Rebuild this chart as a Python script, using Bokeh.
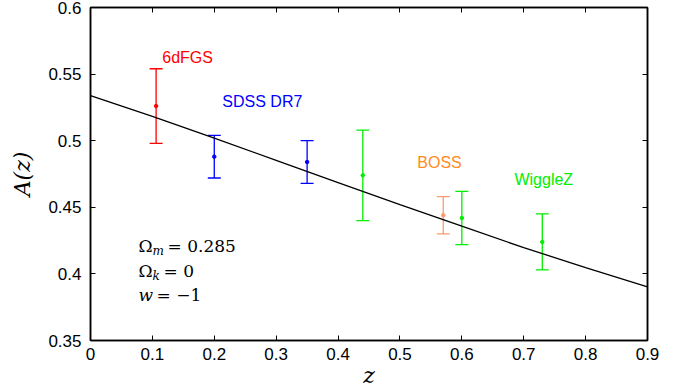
from bokeh.plotting import figure
from bokeh.models import (ColumnDataSource, Whisker, TeeHead, Label, LinearAxis,
                          Range1d, FixedTicker, CustomJSTickFormatter)
from bokeh.embed import file_html
from bokeh.resources import INLINE

# theory curve A(z)
curve_z = [0.0, 0.1, 0.2, 0.3, 0.4, 0.5, 0.6, 0.7, 0.8, 0.9]
curve_A = [0.5339, 0.5182, 0.5019, 0.4853, 0.4686, 0.4520, 0.4358, 0.4197, 0.4048, 0.3902]

# survey measurements
surveys = ["6dFGS", "SDSS DR7", "SDSS DR7", "WiggleZ", "BOSS", "WiggleZ", "WiggleZ"]
z_vals = [0.106, 0.20, 0.35, 0.44, 0.57, 0.60, 0.73]
A_vals = [0.526, 0.488, 0.484, 0.474, 0.444, 0.442, 0.424]
A_err = [0.028, 0.016, 0.016, 0.034, 0.014, 0.020, 0.021]

colors = {"6dFGS": "#ff0000", "SDSS DR7": "#0000ff", "WiggleZ": "#00ee00", "BOSS": "#ff9a6e"}
label_colors = {"6dFGS": "#ff0000", "SDSS DR7": "#0000ff", "WiggleZ": "#00ee00", "BOSS": "#ff8a20"}
label_names = ["6dFGS", "SDSS DR7", "BOSS", "WiggleZ"]
label_x = [0.116, 0.213, 0.528, 0.685]
label_y = [0.5625, 0.5297, 0.4834, 0.471]

x_ticks = [0, 0.1, 0.2, 0.3, 0.4, 0.5, 0.6, 0.7, 0.8, 0.9]
y_ticks = [0.35, 0.4, 0.45, 0.5, 0.55, 0.6]

p = figure(width=681, height=391, output_backend="svg", toolbar_location=None,
           x_range=Range1d(0, 0.9), y_range=Range1d(0.35, 0.6),
           min_border_left=90, min_border_right=34, min_border_top=7, min_border_bottom=51,
           background_fill_color="white", border_fill_color="white")
p.grid.visible = False
p.outline_line_color = "black"
p.outline_line_width = 1.5

tick_font = "Liberation Sans"
for ax in (p.xaxis[0], p.yaxis[0]):
    ax.major_tick_in = 5
    ax.major_tick_out = 0
    ax.minor_tick_in = 0
    ax.minor_tick_out = 0
    ax.axis_line_width = 1.5
    ax.major_tick_line_width = 1
    ax.major_label_text_font = tick_font
    ax.major_label_text_font_size = "17px"
    ax.major_label_text_color = "black"
    ax.axis_label_text_font = "DejaVu Serif"
    ax.axis_label_text_font_style = "italic"
    ax.axis_label_text_font_size = "22px"
    ax.axis_label_text_color = "black"

p.xaxis.ticker = FixedTicker(ticks=x_ticks)
p.yaxis.ticker = FixedTicker(ticks=y_ticks)
p.xaxis.major_label_overrides = {0: "0"}
p.xaxis.axis_label = "z"
p.yaxis.axis_label = "A(z)"
p.xaxis.major_label_standoff = 7
p.yaxis.major_label_standoff = 9
p.xaxis.axis_label_standoff = 0
p.yaxis.axis_label_standoff = 10

# ticks on top and right without labels
blank = CustomJSTickFormatter(code="return '';")
top = LinearAxis(ticker=FixedTicker(ticks=x_ticks), formatter=blank, major_tick_in=5,
                 major_tick_out=0, minor_tick_in=0, minor_tick_out=0,
                 major_label_standoff=0, axis_line_width=1.5)
right = LinearAxis(ticker=FixedTicker(ticks=y_ticks), formatter=blank, major_tick_in=5,
                   major_tick_out=0, minor_tick_in=0, minor_tick_out=0,
                   major_label_standoff=0, axis_line_width=1.5)
p.add_layout(top, "above")
p.add_layout(right, "right")

# theory line
p.line(curve_z, curve_A, line_color="black", line_width=1.3)

# error bars and points
upper = [a + e for a, e in zip(A_vals, A_err)]
lower = [a - e for a, e in zip(A_vals, A_err)]
cols = [colors[s] for s in surveys]
src = ColumnDataSource(dict(z=z_vals, A=A_vals, upper=upper, lower=lower, color=cols))
w = Whisker(base="z", upper="upper", lower="lower", source=src, dimension="height",
            line_color="color", line_width=1.3,
            upper_head=TeeHead(size=13, line_color="color", line_width=1.3),
            lower_head=TeeHead(size=13, line_color="color", line_width=1.3))
p.add_layout(w)
p.scatter("z", "A", source=src, size=3.5, color="color")

# survey labels
for name, lx, ly in zip(label_names, label_x, label_y):
    p.add_layout(Label(x=lx, y=ly, text=name, text_color=label_colors[name],
                       text_font=tick_font, text_font_size="16px",
                       text_baseline="middle", text_align="left"))

# cosmology annotation
serif = "DejaVu Serif"
ann_x = 0.0776
rows_y = [0.4213, 0.4025, 0.3845]
common = dict(text_color="black", text_baseline="middle")
p.add_layout(Label(x=ann_x, y=rows_y[0], text="Ω", text_font=serif, text_font_size="17px", **common))
p.add_layout(Label(x=ann_x, y=rows_y[0], x_offset=14, y_offset=-5, text="m", text_font=serif,
                   text_font_style="italic", text_font_size="12px", **common))
p.add_layout(Label(x=ann_x, y=rows_y[0], x_offset=29, text="= 0.285", text_font=serif,
                   text_font_size="17px", **common))
p.add_layout(Label(x=ann_x, y=rows_y[1], text="Ω", text_font=serif, text_font_size="17px", **common))
p.add_layout(Label(x=ann_x, y=rows_y[1], x_offset=14, y_offset=-5, text="k", text_font=serif,
                   text_font_style="italic", text_font_size="12px", **common))
p.add_layout(Label(x=ann_x, y=rows_y[1], x_offset=25, text="= 0", text_font=serif,
                   text_font_size="17px", **common))
p.add_layout(Label(x=ann_x, y=rows_y[2], text="w", text_font=serif, text_font_style="italic",
                   text_font_size="17px", **common))
p.add_layout(Label(x=ann_x, y=rows_y[2], x_offset=18, text="= −1", text_font=serif,
                   text_font_size="17px", **common))

open("out.html", "w").write(file_html(p, INLINE))
